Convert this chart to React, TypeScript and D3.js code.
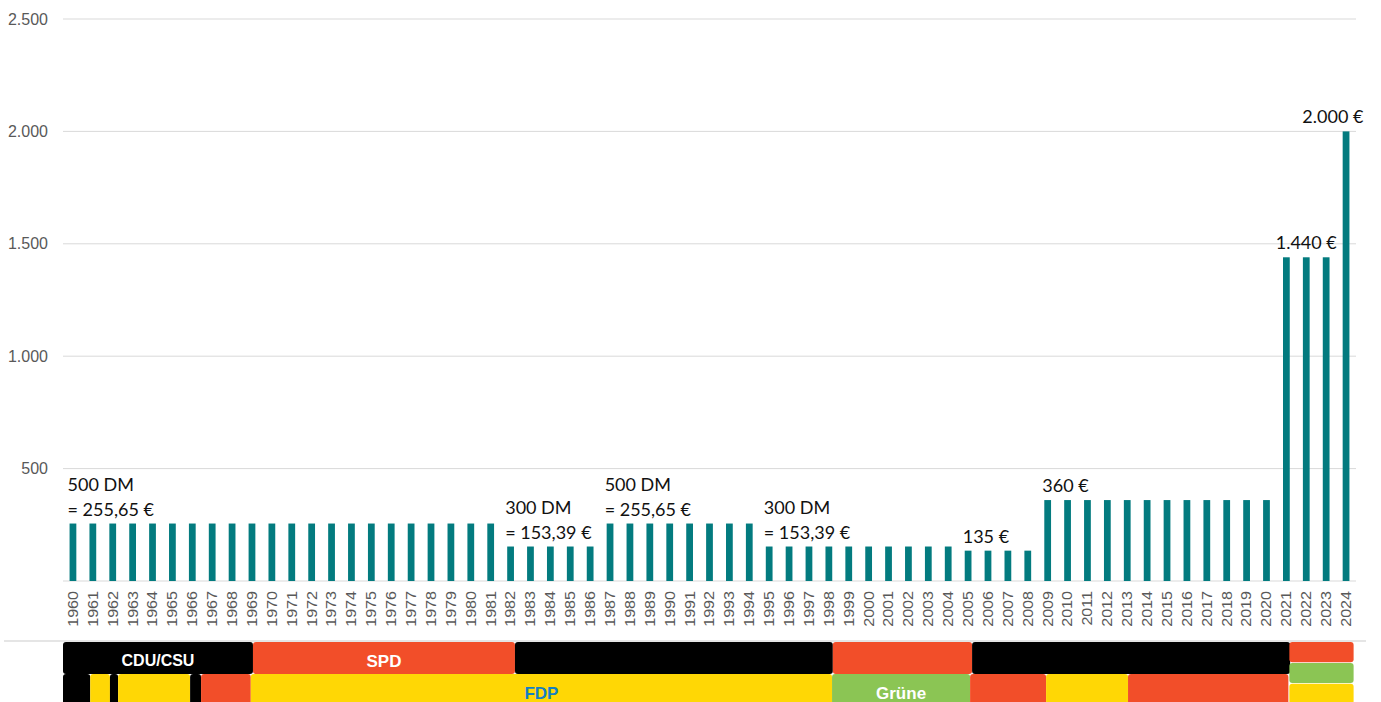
import * as d3 from "d3"
import { useEffect } from "react"

// Kindergeld / Zuschuss pro Jahr (Euro), 1960-2024
const years = [
  "1960", "1961", "1962", "1963", "1964", "1965", "1966", "1967", "1968", "1969",
  "1970", "1971", "1972", "1973", "1974", "1975", "1976", "1977", "1978", "1979",
  "1980", "1981", "1982", "1983", "1984", "1985", "1986", "1987", "1988", "1989",
  "1990", "1991", "1992", "1993", "1994", "1995", "1996", "1997", "1998", "1999",
  "2000", "2001", "2002", "2003", "2004", "2005", "2006", "2007", "2008", "2009",
  "2010", "2011", "2012", "2013", "2014", "2015", "2016", "2017", "2018", "2019",
  "2020", "2021", "2022", "2023", "2024",
]

const amounts = [
  255.65, 255.65, 255.65, 255.65, 255.65, 255.65, 255.65, 255.65, 255.65, 255.65,
  255.65, 255.65, 255.65, 255.65, 255.65, 255.65, 255.65, 255.65, 255.65, 255.65,
  255.65, 255.65, 153.39, 153.39, 153.39, 153.39, 153.39, 255.65, 255.65, 255.65,
  255.65, 255.65, 255.65, 255.65, 255.65, 153.39, 153.39, 153.39, 153.39, 153.39,
  153.39, 153.39, 153.39, 153.39, 153.39, 135, 135, 135, 135, 360,
  360, 360, 360, 360, 360, 360, 360, 360, 360, 360,
  360, 1440, 1440, 1440, 2000,
]

const yTicks = [0, 500, 1000, 1500, 2000, 2500]

// annotations: anchored to a bar (year + value)
const annotations = [
  { year: "1960", value: 255.65, lines: ["500 DM", "= 255,65 €"], align: "start" },
  { year: "1982", value: 153.39, lines: ["300 DM", "= 153,39 €"], align: "start" },
  { year: "1987", value: 255.65, lines: ["500 DM", "= 255,65 €"], align: "start" },
  { year: "1995", value: 153.39, lines: ["300 DM", "= 153,39 €"], align: "start" },
  { year: "2005", value: 135, lines: ["135 €"], align: "start" },
  { year: "2009", value: 360, lines: ["360 €"], align: "start" },
  { year: "2022", value: 1440, lines: ["1.440 €"], align: "middle" },
  { year: "2024", value: 2000, lines: ["2.000 €"], align: "end" },
]

// government parties (fractional years)
const govRow = [
  { party: "CDU", from: 1960, to: 1969.55, label: "CDU/CSU" },
  { party: "SPD", from: 1969.55, to: 1982.72, label: "SPD" },
  { party: "CDU", from: 1982.72, to: 1998.7, label: "" },
  { party: "SPD", from: 1998.7, to: 2005.7, label: "" },
  { party: "CDU", from: 2005.7, to: 2021.69, label: "" },
]

const partnerRow = [
  { party: "CDU", from: 1960, to: 1961.37, label: "" },
  { party: "FDP", from: 1961.37, to: 1962.36, label: "" },
  { party: "CDU", from: 1962.36, to: 1962.77, label: "" },
  { party: "FDP", from: 1962.77, to: 1966.39, label: "" },
  { party: "CDU", from: 1966.39, to: 1966.94, label: "" },
  { party: "SPD", from: 1966.94, to: 1969.44, label: "" },
  { party: "FDP", from: 1969.44, to: 1998.66, label: "FDP" },
  { party: "Grüne", from: 1998.66, to: 2005.6, label: "Grüne" },
  { party: "SPD", from: 2005.6, to: 2009.42, label: "" },
  { party: "FDP", from: 2009.42, to: 2013.54, label: "" },
  { party: "SPD", from: 2013.54, to: 2021.6, label: "" },
]

const ampelParties = ["SPD", "Grüne", "FDP"]
const ampelFrom = 2021.65
const ampelTo = 2024.88

const partyColor: Record<string, string> = {
  CDU: "#000000",
  SPD: "#f24e29",
  FDP: "#ffd705",
  Grüne: "#8bc554",
}
const partyText: Record<string, string> = {
  CDU: "#ffffff",
  SPD: "#ffffff",
  FDP: "#137fc3",
  Grüne: "#ffffff",
}

const de = d3.formatLocale({ decimal: ",", thousands: ".", grouping: [3], currency: ["", " €"] })
const fmt = de.format(",")

export default function App() {
  useEffect(() => {
    document.body.style.margin = "0"
  }, [])

  const W = 1381
  const H = 702
  const left = 63
  const right = 1356
  const top = 19
  const bottom = 581

  const x = d3.scaleBand<string>().domain(years).range([left, right]).paddingInner(0.66).paddingOuter(0.33)
  const yearX = d3.scaleLinear().domain([1960, 2025]).range([left, right])
  const y = d3.scaleLinear().domain([0, 2500]).range([bottom, top])

  const rowY = d3.scaleBand<string>().domain(["gov", "partner"]).range([642, 706])
  const ampelY = d3.scaleBand<string>().domain(ampelParties).range([642, 704]).paddingInner(0.03)

  const bw = x.bandwidth()
  const lineH = 24.5
  const gap = 8

  const segment = (s: { party: string; from: number; to: number; label: string }, row: string, i: number) => {
    const x0 = yearX(s.from)
    const x1 = yearX(s.to)
    const y0 = rowY(row)!
    const fs = s.label === "CDU/CSU" ? 16 : 17
    return (
      <g key={row + i}>
        <rect x={x0} y={y0} width={x1 - x0} height={rowY.bandwidth()} rx={3} fill={partyColor[s.party]} />
        {s.label && (
          <text
            x={(x0 + x1) / 2}
            y={y0 + rowY.bandwidth() / 2}
            dy="0.5em"
            textAnchor="middle"
            fontFamily="'Liberation Sans', Arial, sans-serif"
            fontWeight="bold"
            fontSize={fs}
            fill={partyText[s.party]}
          >
            {s.label}
          </text>
        )}
      </g>
    )
  }

  return (
    <svg width={W} height={H} style={{ position: "absolute", left: 0, top: 0, display: "block" }}>
      <rect width={W} height={H} fill="#ffffff" />

      {/* gridlines + y labels */}
      {yTicks.map((t) => (
        <g key={t}>
          <line x1={left} x2={right} y1={y(t)} y2={y(t)} stroke="#d9d9d9" strokeWidth={1} />
          {t > 0 && (
            <text
              x={48}
              y={y(t)}
              dy="0.35em"
              textAnchor="end"
              fontFamily="'Liberation Sans', Arial, sans-serif"
              fontSize={16}
              fill="#595959"
            >
              {fmt(t)}
            </text>
          )}
        </g>
      ))}

      {/* bars */}
      {years.map((yr, i) => (
        <rect key={yr} x={x(yr)} y={y(amounts[i])} width={bw} height={y(0) - y(amounts[i])} fill="#037b7f" />
      ))}

      {/* x labels */}
      {years.map((yr) => {
        const cx = x(yr)! + bw / 2
        return (
          <text
            key={"l" + yr}
            transform={`translate(${cx},591) rotate(-90) scale(1.15,1)`}
            dy="0.35em"
            textAnchor="end"
            fontFamily="'Liberation Sans', Arial, sans-serif"
            fontSize={14}
            fill="#595959"
          >
            {yr}
          </text>
        )
      })}

      {/* annotations */}
      {annotations.map((a) => {
        const bx = x(a.year)!
        const tx = a.align === "start" ? bx - 2 : a.align === "middle" ? bx + bw / 2 : bx + bw + 14
        const base = y(a.value) - gap
        return (
          <text
            key={"a" + a.year}
            textAnchor={a.align}
            fontFamily="Lato, 'Noto Sans', sans-serif"
            fontSize={18}
            fill="#111111"
          >
            {a.lines.map((ln, j) => (
              <tspan key={j} x={tx} y={base - (a.lines.length - 1 - j) * lineH}>
                {ln}
              </tspan>
            ))}
          </text>
        )
      })}

      {/* separator */}
      <line x1={4} x2={1366} y1={641} y2={641} stroke="#dcdcdc" strokeWidth={1.5} />

      {/* government bands */}
      {govRow.map((s, i) => segment(s, "gov", i))}
      {partnerRow.map((s, i) => segment(s, "partner", i))}
      {ampelParties.map((p) => (
        <rect
          key={"amp" + p}
          x={yearX(ampelFrom)}
          y={ampelY(p)}
          width={yearX(ampelTo) - yearX(ampelFrom)}
          height={ampelY.bandwidth()}
          rx={3}
          fill={partyColor[p]}
        />
      ))}
    </svg>
  )
}
